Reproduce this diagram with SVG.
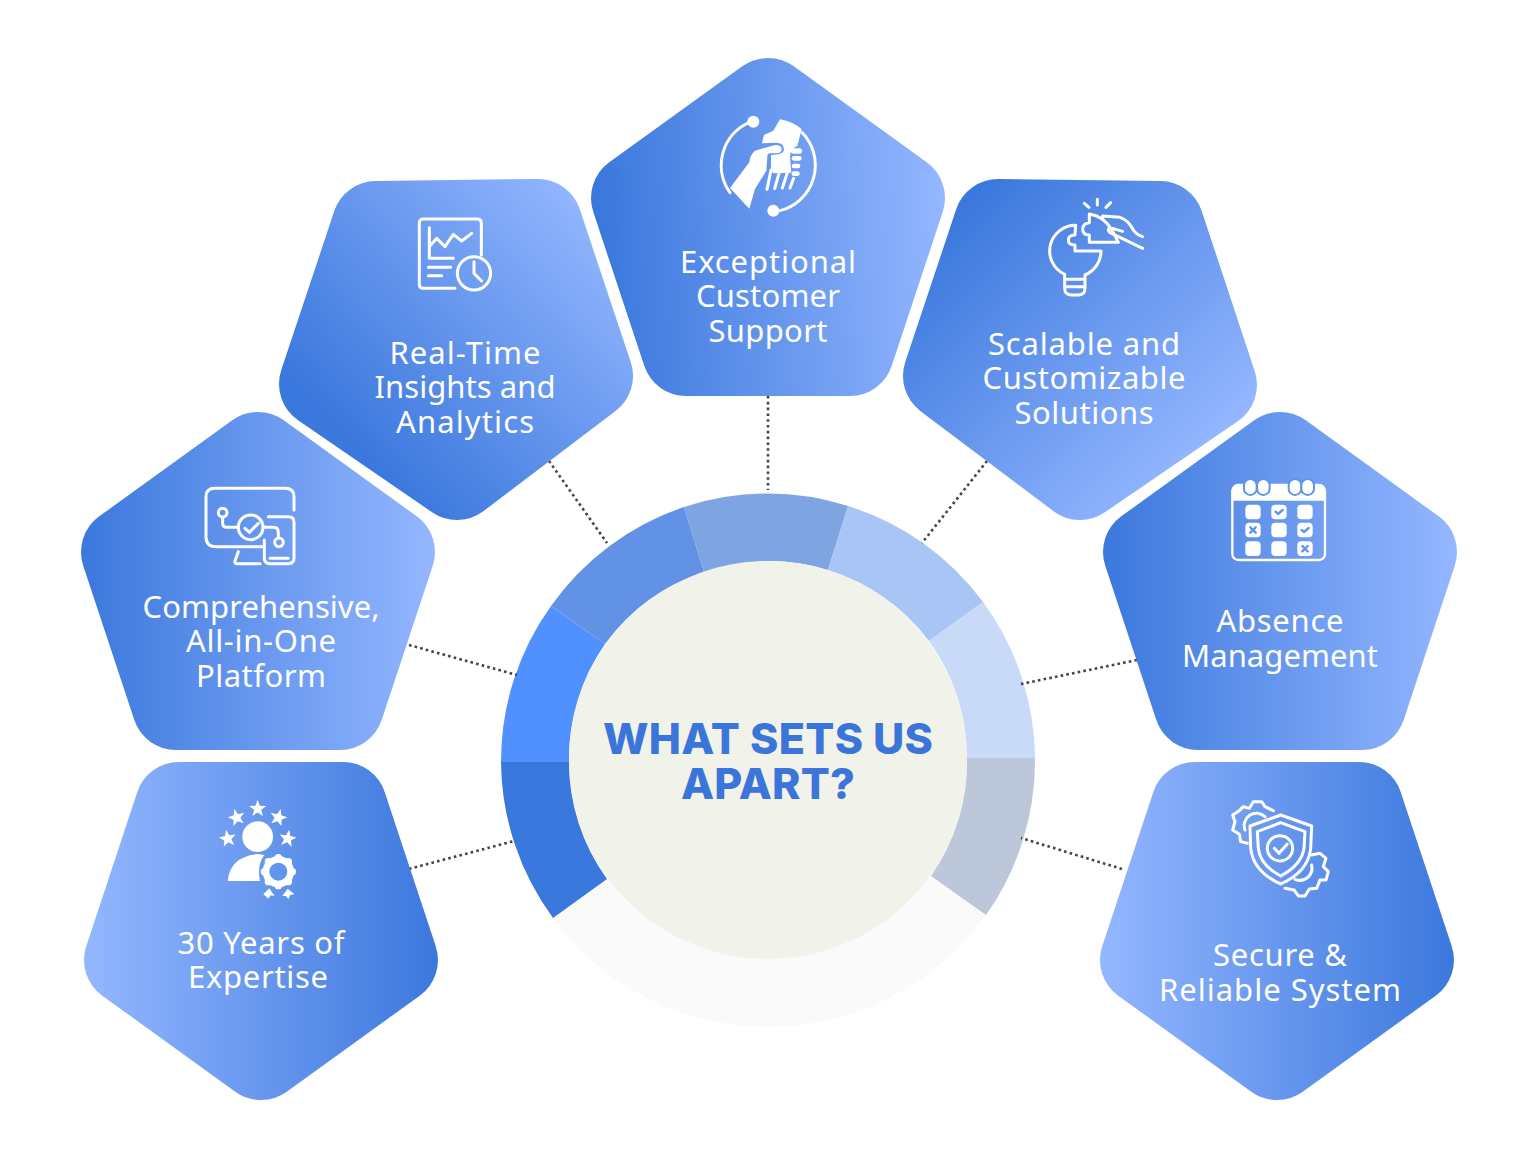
<svg xmlns="http://www.w3.org/2000/svg" xmlns:xlink="http://www.w3.org/1999/xlink" width="1536" height="1152" viewBox="0 0 1536 1152">
<style>
.p{stroke-width:88;stroke-linejoin:round}
.t{font-family:"Noto Sans","DejaVu Sans",sans-serif;font-size:31px;fill:#fff;text-anchor:middle}
.h{font-family:"Inter","Liberation Sans",sans-serif;font-size:43px;font-weight:800;fill:#3B75D9;text-anchor:middle}
.c{fill:none;stroke:#444;stroke-width:2.6;stroke-dasharray:2.6 3.2}
.i{fill:none;stroke:#fff;stroke-width:9;stroke-linecap:round;stroke-linejoin:round}
.w{fill:#fff}
</style>
<defs>
<linearGradient id="gT" gradientUnits="userSpaceOnUse" x1="600" y1="210" x2="946" y2="190"><stop offset="0" stop-color="#3B78DD"/><stop offset="1" stop-color="#94B7FF"/></linearGradient>
<linearGradient id="gR" gradientUnits="userSpaceOnUse" x1="340" y1="430" x2="590" y2="200"><stop offset="0" stop-color="#3B78DD"/><stop offset="1" stop-color="#94B7FF"/></linearGradient>
<linearGradient id="gS" gradientUnits="userSpaceOnUse" x1="965" y1="205" x2="1210" y2="450"><stop offset="0" stop-color="#3B78DD"/><stop offset="1" stop-color="#94B7FF"/></linearGradient>
<linearGradient id="gC" gradientUnits="userSpaceOnUse" x1="80" y1="580" x2="436" y2="580"><stop offset="0" stop-color="#3B78DD"/><stop offset="1" stop-color="#94B7FF"/></linearGradient>
<linearGradient id="gA" gradientUnits="userSpaceOnUse" x1="1102" y1="580" x2="1457" y2="580"><stop offset="0" stop-color="#3B78DD"/><stop offset="1" stop-color="#94B7FF"/></linearGradient>
<linearGradient id="gY" gradientUnits="userSpaceOnUse" x1="83" y1="930" x2="438" y2="930"><stop offset="0" stop-color="#94B7FF"/><stop offset="1" stop-color="#3B78DD"/></linearGradient>
<linearGradient id="gE" gradientUnits="userSpaceOnUse" x1="1100" y1="930" x2="1454" y2="930"><stop offset="0" stop-color="#94B7FF"/><stop offset="1" stop-color="#3B78DD"/></linearGradient>
<path id="star" d="M0-27 6.6-9.1 25.7-8.3 10.7 3.5 15.9 21.8 0 11.2-15.9 21.8-10.7 3.5-25.7-8.3-6.6-9.1Z" fill="#fff"/>
</defs>

<g id="hub">
<circle cx="768" cy="760" r="267" fill="#FAFAFA"/>
<path fill="#3B78DD" d="M501 762H569A199 199 0 0 0 607 879L553 918A267 267 0 0 1 501 762Z"/>
<path fill="#5091FF" d="M551 606 605 644A199 199 0 0 0 569 762H501A267 267 0 0 1 551 606Z"/>
<path fill="#6192E6" d="M684 507 704 572A199 199 0 0 0 605 644L551 606A267 267 0 0 1 684 507Z"/>
<path fill="#7FA4E2" d="M848 506 828 570A199 199 0 0 0 704 572L684 507A267 267 0 0 1 848 506Z"/>
<path fill="#A8C5F5" d="M983 602 929 641A199 199 0 0 0 828 570L848 506A267 267 0 0 1 983 602Z"/>
<path fill="#C8DAF8" d="M1035 758H967A199 199 0 0 0 929 641L983 602A267 267 0 0 1 1035 758Z"/>
<path fill="#BCC7D9" d="M986 915 931 876A199 199 0 0 0 967 758H1035A267 267 0 0 1 986 915Z"/>
<circle cx="768" cy="760" r="199" fill="#F1F3EA"/>
<text class="h" x="768" y="754" textLength="330" lengthAdjust="spacing">WHAT SETS US</text>
<text class="h" x="768" y="799" textLength="174" lengthAdjust="spacing">APART?</text>
</g>

<g id="connectors">
<path class="c" d="M768 396V490"/>
<path class="c" d="M549 461 607 543"/>
<path class="c" d="M987 461 922 543"/>
<path class="c" d="M409 645 517 675"/>
<path class="c" d="M1137 660 1021 684"/>
<path class="c" d="M409 869 514 841"/>
<path class="c" d="M1122 869 1021 838"/>
</g>

<g id="node-support">
<polygon class="p" style="fill:url(#gT);stroke:url(#gT)" points="768,102 901,198 850,352 686,352 635,198"/>
<g transform="translate(690 90) scale(.3333)">
<path class="i" d="M178 97A141 141 0 0 0 120 308M270 362A141 141 0 0 0 337 128"/>
<circle class="w" cx="190" cy="95" r="18"/><circle class="w" cx="250" cy="362" r="18"/>
<path class="w" d="M120 294 178 217Q180 195 195 182L255 165Q275 165 275 178 275 190 258 190H240Q232 190 232 200L229 242 195 297 178 356Z"/>
<path class="w" d="M216 160 222 135 250 122 270 88Q310 95 335 118L322 168Q302 175 300 200L304 248 250 250 243 242V195Q282 195 282 178 282 158 258 158Z"/>
<path class="i" d="M243 240 231 298M270 240 254 296M293 245 277 294M311 265 300 294"/>
<rect class="w" x="303" y="175" width="33" height="16" rx="8"/><rect class="w" x="305" y="198" width="30" height="14" rx="7"/><rect class="w" x="305" y="221" width="26" height="14" rx="7"/><rect class="w" x="305" y="244" width="24" height="14" rx="7"/>
</g>
<text class="t" x="768" y="273" textLength="176" lengthAdjust="spacing">Exceptional</text>
<text class="t" x="768" y="307" textLength="144" lengthAdjust="spacing">Customer</text>
<text class="t" x="768" y="342" textLength="119" lengthAdjust="spacing">Support</text>
</g>

<g id="node-insights">
<polygon class="p" style="fill:url(#gR);stroke:url(#gR)" points="457,476 589,376 538,223 376,225 323,384"/>
<g transform="translate(400 205) scale(.3333)">
<path class="i" d="M165 250H70Q58 250 58 238V55Q58 42 70 42H232Q244 42 244 55V150M88 68V160H160M88 125 110 100 135 125 160 88 185 108 215 85M85 187H152M85 212H125"/>
<circle class="i" cx="222" cy="205" r="50"/><path class="i" d="M222 170V205L245 228"/>
</g>
<text class="t" x="465" y="364" textLength="151" lengthAdjust="spacing">Real-Time</text>
<text class="t" x="465" y="398" textLength="181" lengthAdjust="spacing">Insights and</text>
<text class="t" x="465" y="433" textLength="138" lengthAdjust="spacing">Analytics</text>
</g>

<g id="node-scalable">
<polygon class="p" style="fill:url(#gS);stroke:url(#gS)" points="1080,476 1213,385 1160,225 998,223 947,376"/>
<g transform="translate(1030 190) scale(.3333)">
<path class="i" d="M137 106A77 77 0 0 0 104 253V295Q104 315 125 315H145Q165 315 165 295V255A77 77 0 0 0 213 183H135V165Q115 165 115 150 115 135 135 135ZM108 268H165M108 290H165"/>
<path class="i" d="M178 72V98Q158 100 158 118 158 135 178 135V157H265M178 72Q220 78 245 118L265 157M218 78 270 82Q295 90 310 120 320 135 338 140M338 175 265 140 240 128Q230 118 240 113L278 124M163 40 177 52M202 28V45M242 38 228 52"/>
</g>
<text class="t" x="1084" y="355" textLength="192" lengthAdjust="spacing">Scalable and</text>
<text class="t" x="1084" y="389" textLength="203" lengthAdjust="spacing">Customizable</text>
<text class="t" x="1084" y="424" textLength="139" lengthAdjust="spacing">Solutions</text>
</g>

<g id="node-platform">
<polygon class="p" style="fill:url(#gC);stroke:url(#gC)" points="258,456 391,552 340,706 176,706 125,552"/>
<g transform="translate(190 475) scale(.3333)">
<path class="i" d="M312 105V65Q312 40 285 40H75Q48 40 48 65V185Q48 215 78 215H215M145 230 135 258Q133 266 142 266H210M235 125H295Q312 125 312 142V250Q312 266 295 266H240Q223 266 223 250V195M240 250H295M98 126V145Q98 157 110 157H145M165 160 178 172 205 145M220 157H250Q265 157 265 172V188"/>
<circle class="i" cx="98" cy="113" r="13"/><circle class="i" cx="182" cy="157" r="37"/><circle class="i" cx="267" cy="202" r="13"/>
</g>
<text class="t" x="261" y="618" textLength="237" lengthAdjust="spacing">Comprehensive,</text>
<text class="t" x="261" y="652" textLength="150" lengthAdjust="spacing">All-in-One</text>
<text class="t" x="261" y="687" textLength="130" lengthAdjust="spacing">Platform</text>
</g>

<g id="node-absence">
<polygon class="p" style="fill:url(#gA);stroke:url(#gA)" points="1280,456 1413,552 1362,706 1198,706 1147,552"/>
<g transform="translate(1215 470) scale(.3333)">
<rect x="52" y="45" width="278" height="225" rx="18" fill="none" stroke="#fff" stroke-width="7"/>
<path class="w" d="M50 92V65Q50 45 70 45H312Q332 45 332 65V92Z"/>
<g fill="#fff" stroke="#5F94EA" stroke-width="6"><rect x="87" y="27" width="38" height="48" rx="19"/><rect x="126" y="27" width="38" height="48" rx="19"/><rect x="221" y="27" width="38" height="48" rx="19"/><rect x="259" y="27" width="38" height="48" rx="19"/></g>
<g class="w"><rect x="91" y="104" width="46" height="44" rx="12"/><rect x="169" y="104" width="46" height="44" rx="12"/><rect x="247" y="104" width="46" height="44" rx="12"/><rect x="91" y="158" width="46" height="44" rx="12"/><rect x="169" y="158" width="46" height="44" rx="12"/><rect x="247" y="158" width="46" height="44" rx="12"/><rect x="91" y="214" width="46" height="44" rx="12"/><rect x="169" y="214" width="46" height="44" rx="12"/><rect x="247" y="214" width="46" height="44" rx="12"/></g>
<path fill="none" stroke="#5F94EA" stroke-width="7" stroke-linecap="round" stroke-linejoin="round" d="M182 125 189 132 203 120M260 180 267 186 281 174M106 172 122 188M122 172 106 188M262 228 278 244M278 228 262 244"/>
</g>
<text class="t" x="1280" y="632" textLength="127" lengthAdjust="spacing">Absence</text>
<text class="t" x="1280" y="667" textLength="196" lengthAdjust="spacing">Management</text>
</g>

<g id="node-expertise">
<polygon class="p" style="fill:url(#gY);stroke:url(#gY)" points="261,1056 394,960 343,806 179,806 128,960"/>
<g transform="translate(205 790) scale(.3333)">
<use xlink:href="#star" href="#star" transform="translate(158 56)"/>
<use xlink:href="#star" href="#star" transform="translate(95 83) rotate(-15)"/>
<use xlink:href="#star" href="#star" transform="translate(220 83) rotate(15)"/>
<use xlink:href="#star" href="#star" transform="translate(68 146) rotate(-10)"/>
<use xlink:href="#star" href="#star" transform="translate(248 146) rotate(10)"/>
<circle class="w" cx="158" cy="140" r="46"/>
<path class="w" d="M68 273Q75 200 158 192L178 195Q155 225 165 273Z"/>
<circle cx="220" cy="245" r="37" fill="none" stroke="#fff" stroke-width="20"/>
<g class="w"><circle cx="262" cy="245" r="11"/><circle cx="250" cy="275" r="11"/><circle cx="220" cy="287" r="11"/><circle cx="190" cy="275" r="11"/><circle cx="178" cy="245" r="11"/><circle cx="190" cy="215" r="11"/><circle cx="220" cy="203" r="11"/><circle cx="250" cy="215" r="11"/></g>
<path class="w" d="M175 312 193 295 209 318 197 316 190 326ZM232 318 248 296 268 312 255 316 250 328 243 318Z"/>
</g>
<text class="t" x="261" y="954" textLength="167" lengthAdjust="spacing">30 Years of</text>
<text class="t" x="258" y="988" textLength="140" lengthAdjust="spacing">Expertise</text>
</g>

<g id="node-secure">
<polygon class="p" style="fill:url(#gE);stroke:url(#gE)" points="1277,1056 1410,960 1359,806 1195,806 1144,960"/>
<g transform="translate(1220 790) scale(.3333)">
<path class="i" d="M182 75 275 108 272 175Q265 245 182 282 100 245 92 175L90 108ZM182 98 255 125 252 175Q245 225 182 258 120 225 115 175L112 125Z"/>
<circle class="i" cx="180" cy="175" r="38"/><path class="i" d="M163 175 177 190 202 162"/>
<path class="i" d="M82 160 62 155 58 133 38 120 45 95 38 75 58 62 70 50 88 55 100 35H125L135 50 160 62M75 120A37 37 0 0 1 135 80"/>
<path class="i" d="M275 195 300 190 318 205 310 230 325 245 318 270H300L290 295 268 297 255 318H235L222 300 195 295M225 268A37 37 0 0 0 275 225"/>
</g>
<text class="t" x="1280" y="966" textLength="134" lengthAdjust="spacing">Secure &amp;</text>
<text class="t" x="1280" y="1001" textLength="242" lengthAdjust="spacing">Reliable System</text>
</g>
</svg>
